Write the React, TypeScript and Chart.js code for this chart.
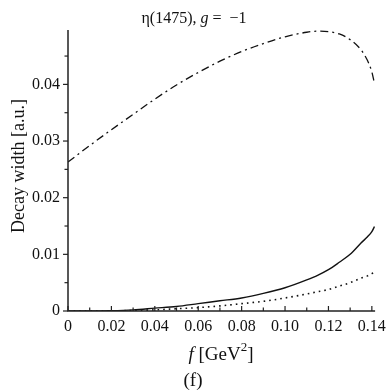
import React, { useEffect, useRef } from "react";
import { Chart, registerables } from "chart.js";

Chart.register(...registerables);

// f values [GeV^2]
const fGrid = [0, 0.01, 0.02, 0.03, 0.04, 0.05, 0.06, 0.07, 0.08, 0.09, 0.1, 0.11, 0.115, 0.12, 0.125, 0.13, 0.135, 0.138, 0.14, 0.1412];
// decay widths [a.u.]
const dashDotWidth = [0.0263, 0.0292, 0.032, 0.0347, 0.0374, 0.0399, 0.0421, 0.0441, 0.0458, 0.0472, 0.0484, 0.0492, 0.0494, 0.0493, 0.0489, 0.0479, 0.0461, 0.0442, 0.0422, 0.0402];
const solidWidth = [0, 0, 0.00005, 0.0002, 0.0005, 0.0008, 0.0013, 0.0018, 0.0023, 0.0031, 0.0041, 0.0055, 0.0063, 0.0073, 0.0086, 0.01, 0.012, 0.0131, 0.014, 0.0149];
const dottedWidth = [0, 0, 0, 0.0001, 0.0002, 0.0004, 0.0006, 0.0009, 0.0013, 0.0017, 0.0023, 0.003, 0.0034, 0.0038, 0.0044, 0.005, 0.0058, 0.0062, 0.0066, 0.0068];

const xTickValues = [0, 0.01, 0.02, 0.03, 0.04, 0.05, 0.06, 0.07, 0.08, 0.09, 0.1, 0.11, 0.12, 0.13, 0.14];
const xTickLabels = ["0", "", "0.02", "", "0.04", "", "0.06", "", "0.08", "", "0.10", "", "0.12", "", "0.14"];
const yTickValues = [0, 0.005, 0.01, 0.015, 0.02, 0.025, 0.03, 0.035, 0.04, 0.045];
const yTickLabels = ["0", "", "0.01", "", "0.02", "", "0.03", "", "0.04", ""];

const SERIF = '"Liberation Serif", "DejaVu Serif", serif';

function pts(ys: number[]) {
  return fGrid.map((x, i) => ({ x, y: ys[i] }));
}

const decorPlugin = {
  id: "decor",
  afterDraw(chart: any) {
    const ctx: CanvasRenderingContext2D = chart.ctx;
    const { left, right, top, bottom } = chart.chartArea;
    const xs = chart.scales.x;
    const ys = chart.scales.y;
    ctx.save();
    ctx.strokeStyle = "#222";
    ctx.fillStyle = "#111";
    ctx.lineWidth = 1.5;
    // axis lines
    ctx.beginPath();
    ctx.moveTo(left, top);
    ctx.lineTo(left, bottom);
    ctx.lineTo(right, bottom);
    ctx.stroke();
    ctx.lineWidth = 1.2;
    // y ticks (outside, left)
    yTickValues.forEach((v, i) => {
      const py = ys.getPixelForValue(v);
      const len = yTickLabels[i] ? 5 : 3.5;
      ctx.beginPath();
      ctx.moveTo(left - len, py);
      ctx.lineTo(left, py);
      ctx.stroke();
    });
    // x ticks (inside, up)
    xTickValues.forEach((v, i) => {
      const px = xs.getPixelForValue(v);
      const len = xTickLabels[i] ? 5 : 3.5;
      ctx.beginPath();
      ctx.moveTo(px, bottom);
      ctx.lineTo(px, bottom - len);
      ctx.stroke();
    });

    // title: η(1475), g = −1
    ctx.textBaseline = "alphabetic";
    const tSize = 16;
    const parts: [string, string][] = [
      ["η(1475), ", `${tSize}px ${SERIF}`],
      ["g", `italic ${tSize}px ${SERIF}`],
      [" =  −1", `${tSize}px ${SERIF}`],
    ];
    let total = 0;
    parts.forEach(([t, f]) => { ctx.font = f; total += ctx.measureText(t).width; });
    let cx = 194 - total / 2;
    parts.forEach(([t, f]) => { ctx.font = f; ctx.textAlign = "left"; ctx.fillText(t, cx, 23); cx += ctx.measureText(t).width; });

    // x title: f [GeV^2]
    const xSize = 19;
    const xParts: [string, string, number][] = [
      ["f", `italic ${xSize}px ${SERIF}`, 0],
      [" [GeV", `${xSize}px ${SERIF}`, 0],
      ["2", `${Math.round(xSize * 0.7)}px ${SERIF}`, -9],
      ["]", `${xSize}px ${SERIF}`, 0],
    ];
    total = 0;
    xParts.forEach(([t, f]) => { ctx.font = f; total += ctx.measureText(t).width; });
    cx = 221 - total / 2;
    xParts.forEach(([t, f, dy]) => { ctx.font = f; ctx.fillText(t, cx, 360 + dy); cx += ctx.measureText(t).width; });

    // (f)
    ctx.font = `${xSize}px ${SERIF}`;
    ctx.textAlign = "center";
    ctx.fillText("(f)", 193, 386);

    // y title
    ctx.save();
    ctx.translate(24, 166);
    ctx.rotate(-Math.PI / 2);
    ctx.font = `18px ${SERIF}`;
    ctx.textAlign = "center";
    ctx.fillText("Decay width [a.u.]", 0, 0);
    ctx.restore();

    ctx.restore();
  },
};

export default function App() {
  const ref = useRef<HTMLCanvasElement | null>(null);
  useEffect(() => {
    if (!ref.current) return;
    const chart = new Chart(ref.current, {
      type: "line",
      data: {
        datasets: [
          {
            data: pts(dashDotWidth),
            borderColor: "#111",
            borderWidth: 1.3,
            borderDash: [8, 4, 2, 4],
            pointRadius: 0,
            cubicInterpolationMode: "monotone",
            fill: false,
          },
          {
            data: pts(solidWidth),
            borderColor: "#111",
            borderWidth: 1.4,
            pointRadius: 0,
            cubicInterpolationMode: "monotone",
            fill: false,
          },
          {
            data: pts(dottedWidth),
            borderColor: "#111",
            borderWidth: 1.6,
            borderDash: [1.6, 4],
            pointRadius: 0,
            cubicInterpolationMode: "monotone",
            fill: false,
          },
        ],
      },
      options: {
        animation: false,
        responsive: false,
        maintainAspectRatio: false,
        layout: { padding: { top: 30, right: 14, left: 0, bottom: 0 } },
        plugins: { legend: { display: false }, tooltip: { enabled: false }, title: { display: false } },
        scales: {
          x: {
            type: "linear",
            min: 0,
            max: 0.1415,
            grid: { display: false, drawTicks: false },
            border: { display: false },
            afterBuildTicks: (scale: any) => {
              scale.ticks = xTickValues.map((v) => ({ value: v }));
            },
            afterFit: (scale: any) => {
              scale.height = 81;
            },
            ticks: {
              autoSkip: false,
              maxRotation: 0,
              padding: 6,
              color: "#111",
              font: { family: SERIF, size: 16 },
              callback: (_v: any, i: number) => xTickLabels[i],
            },
          },
          y: {
            type: "linear",
            min: 0,
            max: 0.0496,
            grid: { display: false, drawTicks: false },
            border: { display: false },
            afterBuildTicks: (scale: any) => {
              scale.ticks = yTickValues.map((v) => ({ value: v }));
            },
            afterFit: (scale: any) => {
              scale.width = 68;
            },
            ticks: {
              autoSkip: false,
              padding: 8,
              color: "#111",
              font: { family: SERIF, size: 16 },
              callback: (_v: any, i: number) => yTickLabels[i],
            },
          },
        },
      },
      plugins: [decorPlugin],
    } as any);
    return () => chart.destroy();
  }, []);
  return (
    <div style={{ position: "fixed", left: 0, top: 0, width: 392, height: 392, background: "#fff" }}>
      <canvas ref={ref} width={392} height={392} style={{ width: 392, height: 392, display: "block" }} />
    </div>
  );
}
